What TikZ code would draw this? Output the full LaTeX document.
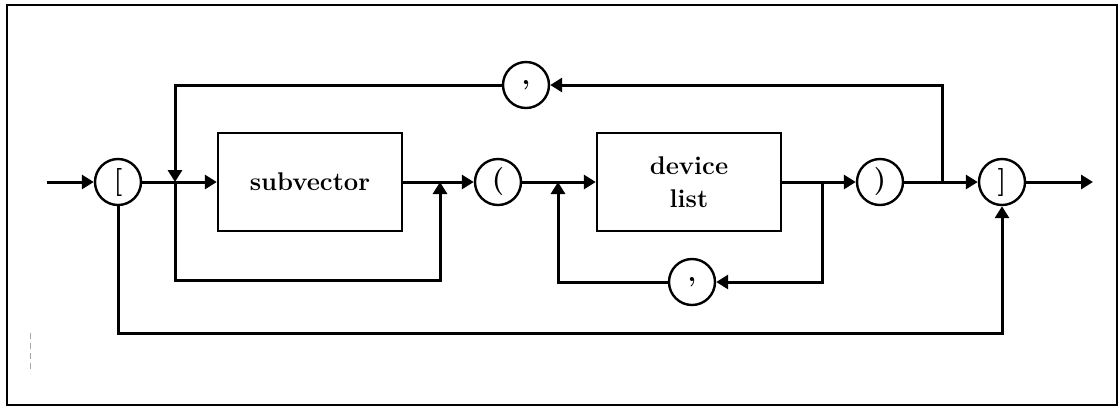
\documentclass[tikz,border=0pt]{standalone}
\usetikzlibrary{arrows.meta}
\begin{document}
\begin{tikzpicture}[x=0.5pt, y=-0.5pt, >={Triangle[length=6pt,width=7pt]},
    line width=1.5pt,
    token/.style={circle, draw, line width=1.2pt, minimum size=23pt, inner sep=0pt,
        font=\fontsize{14}{14}\selectfont\bfseries},
    rule/.style={rectangle, draw, line width=1.2pt, minimum width=92pt, minimum height=49pt,
        align=center, font=\fontsize{12.8}{16.5}\selectfont\bfseries}]
    % Frame of the figure
    \useasboundingbox (0,0) rectangle (1120,409);
    \draw[line width=0.9pt] (7,5) rectangle (1117,405);
    \draw[gray!70, densely dashed, line width=0.4pt] (30,333) -- (30,373);

    % Tokens and boxes along the main line
    \node[token] (lbrack) at (118,182) {[};
    \node[rule] (subvec) at (310,182) {subvector};
    \node[token] (lparen) at (498,182) {(};
    \node[rule] (devlist) at (689,182) {device\\list};
    \node[token] (rparen) at (880,182) {)};
    \node[token] (rbrack) at (1002,182) {]};
    \node[token] (commatop) at (526,85) {\raisebox{-2pt}{,}};
    \node[token] (commadev) at (692,282) {\raisebox{-2pt}{,}};

    % Branch points
    \coordinate (start) at (47,182);
    \coordinate (stop) at (1093,182);
    \coordinate (jsub) at (175,182);
    \coordinate (jsubend) at (440,182);
    \coordinate (jdev) at (558,182);
    \coordinate (jdevend) at (822,182);
    \coordinate (jrep) at (942,182);
    \coordinate (subbot) at (175,280);
    \coordinate (skipbot) at (560,333);

    % Main line
    \draw[->] (start) -- (lbrack);
    \draw (lbrack) -- (jsub);
    \draw[->] (jsub) -- (subvec);
    \draw (subvec) -- (jsubend);
    \draw[->] (jsubend) -- (lparen);
    \draw (lparen) -- (jdev);
    \draw[->] (jdev) -- (devlist);
    \draw (devlist) -- (jdevend);
    \draw[->] (jdevend) -- (rparen);
    \draw (rparen) -- (jrep);
    \draw[->] (jrep) -- (rbrack);
    \draw[->] (rbrack) -- (stop);

    % Repeat loop over the top
    \draw[->] (jrep) |- (commatop);
    \draw[->] (commatop) -| (jsub);

    % Optional subvector
    \draw[->] (jsub) -- (subbot) -| (jsubend);

    % Repeat loop under the device list
    \draw[->] (jdevend) |- (commadev);
    \draw[->] (commadev) -| (jdev);

    % Empty brackets
    \draw[->] (lbrack) |- (skipbot) -| (rbrack);
\end{tikzpicture}
\end{document}
